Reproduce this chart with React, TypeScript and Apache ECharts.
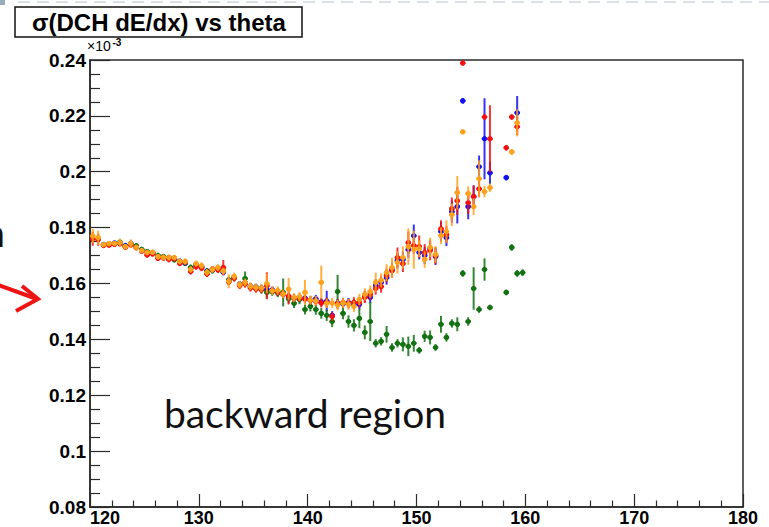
import React, { useEffect, useRef } from "react";
import * as echarts from "echarts";

// [theta (deg), sigma (x1e-3), error (x1e-3)]
const blueData: number[][] = [
  [121.25, 0.1740, 0.0008], [121.75, 0.1742, 0.0008], [122.25, 0.1745, 0.0008], [122.75, 0.1746, 0.0009],
  [123.25, 0.1736, 0.0008], [123.75, 0.1744, 0.0008], [124.25, 0.1733, 0.0009], [124.75, 0.1720, 0.0008],
  [125.25, 0.1712, 0.0009], [125.75, 0.1709, 0.0009], [126.25, 0.1697, 0.0009], [126.75, 0.1695, 0.0010],
  [127.25, 0.1693, 0.0009], [127.75, 0.1687, 0.0010], [128.25, 0.1680, 0.0010], [128.75, 0.1672, 0.0009],
  [129.25, 0.1654, 0.0010], [129.75, 0.1668, 0.0011], [130.25, 0.1660, 0.0010], [130.75, 0.1645, 0.0010],
  [131.25, 0.1648, 0.0011], [131.75, 0.1652, 0.0010], [132.25, 0.1640, 0.0011], [132.75, 0.1611, 0.0012],
  [133.25, 0.1622, 0.0011], [133.75, 0.1598, 0.0011], [134.25, 0.1603, 0.0012], [134.75, 0.1590, 0.0012],
  [135.25, 0.1588, 0.0011], [135.75, 0.1584, 0.0012], [136.25, 0.1578, 0.0013], [136.75, 0.1577, 0.0012],
  [137.25, 0.1568, 0.0013], [137.75, 0.1566, 0.0012], [138.25, 0.1552, 0.0013], [138.75, 0.1548, 0.0014],
  [139.25, 0.1546, 0.0014], [139.75, 0.1548, 0.0013], [140.25, 0.1540, 0.0014], [140.75, 0.1545, 0.0014],
  [141.25, 0.1534, 0.0015], [141.75, 0.1537, 0.0037], [142.25, 0.1486, 0.0015], [142.75, 0.1530, 0.0015],
  [143.25, 0.1527, 0.0016], [143.75, 0.1532, 0.0016], [144.25, 0.1525, 0.0018], [144.75, 0.1525, 0.0018],
  [145.25, 0.1554, 0.0020], [145.75, 0.1550, 0.0020], [146.25, 0.1593, 0.0022], [146.75, 0.1604, 0.0022],
  [147.25, 0.1621, 0.0025], [147.75, 0.1650, 0.0025], [148.25, 0.1682, 0.0028], [148.75, 0.1686, 0.0028],
  [149.25, 0.1721, 0.0030], [149.75, 0.1771, 0.0040], [150.25, 0.1711, 0.0025], [150.75, 0.1700, 0.0030],
  [151.25, 0.1725, 0.0030], [151.75, 0.1696, 0.0030], [152.25, 0.1786, 0.0035], [152.75, 0.1764, 0.0030],
  [153.25, 0.1857, 0.0040], [153.75, 0.1875, 0.0060], [154.25, 0.2254, 0.0010], [154.75, 0.1875, 0.0045],
  [155.25, 0.1911, 0.0040], [155.75, 0.2018, 0.0040], [156.25, 0.2118, 0.0145], [156.75, 0.1996, 0.0040],
  [158.25, 0.1979, 0.0010], [159.25, 0.2211, 0.0060],
];

const redData: number[][] = [
  [120.25, 0.1760, 0.0025], [120.75, 0.1757, 0.0022], [121.25, 0.1736, 0.0008], [121.75, 0.1737, 0.0008],
  [122.25, 0.1740, 0.0008], [122.75, 0.1742, 0.0009], [123.25, 0.1730, 0.0008], [123.75, 0.1738, 0.0009],
  [124.25, 0.1728, 0.0009], [124.75, 0.1716, 0.0009], [125.25, 0.1702, 0.0009], [125.75, 0.1706, 0.0010],
  [126.25, 0.1690, 0.0009], [126.75, 0.1692, 0.0010], [127.25, 0.1686, 0.0010], [127.75, 0.1689, 0.0010],
  [128.25, 0.1672, 0.0010], [128.75, 0.1677, 0.0010], [129.25, 0.1643, 0.0011], [129.75, 0.1660, 0.0011],
  [130.25, 0.1655, 0.0011], [130.75, 0.1634, 0.0011], [131.25, 0.1652, 0.0011], [131.75, 0.1649, 0.0012],
  [132.25, 0.1657, 0.0027], [132.75, 0.1605, 0.0012], [133.25, 0.1619, 0.0012], [133.75, 0.1592, 0.0012],
  [134.25, 0.1598, 0.0013], [134.75, 0.1584, 0.0013], [135.25, 0.1580, 0.0013], [135.75, 0.1578, 0.0013],
  [136.25, 0.1592, 0.0048], [136.75, 0.1575, 0.0013], [137.25, 0.1569, 0.0014], [137.75, 0.1561, 0.0014],
  [138.25, 0.1555, 0.0030], [138.75, 0.1547, 0.0014], [139.25, 0.1549, 0.0015], [139.75, 0.1544, 0.0015],
  [140.25, 0.1540, 0.0015], [140.75, 0.1536, 0.0015], [141.25, 0.1530, 0.0016], [141.75, 0.1533, 0.0016],
  [142.25, 0.1482, 0.0016], [142.75, 0.1527, 0.0016], [143.25, 0.1532, 0.0017], [143.75, 0.1528, 0.0017],
  [144.25, 0.1533, 0.0018], [144.75, 0.1532, 0.0018], [145.25, 0.1550, 0.0020], [145.75, 0.1561, 0.0020],
  [146.25, 0.1582, 0.0022], [146.75, 0.1589, 0.0022], [147.25, 0.1629, 0.0025], [147.75, 0.1646, 0.0025],
  [148.25, 0.1693, 0.0036], [148.75, 0.1671, 0.0030], [149.25, 0.1746, 0.0040], [149.75, 0.1736, 0.0030],
  [150.25, 0.1732, 0.0040], [150.75, 0.1711, 0.0030], [151.25, 0.1718, 0.0035], [151.75, 0.1700, 0.0030],
  [152.25, 0.1796, 0.0030], [152.75, 0.1775, 0.0030], [153.25, 0.1868, 0.0040], [153.75, 0.1896, 0.0050],
  [154.25, 0.2389, 0.0008], [154.75, 0.1889, 0.0040], [155.25, 0.1911, 0.0040], [155.75, 0.1939, 0.0030],
  [156.25, 0.2196, 0.0010], [156.75, 0.2118, 0.0120], [158.25, 0.2086, 0.0010], [158.75, 0.2196, 0.0010],
  [159.25, 0.2161, 0.0030],
];

const orangeData: number[][] = [
  [120.25, 0.1770, 0.0025], [120.75, 0.1764, 0.0025], [121.25, 0.1739, 0.0008], [121.75, 0.1743, 0.0009],
  [122.25, 0.1743, 0.0009], [122.75, 0.1746, 0.0015], [123.25, 0.1732, 0.0009], [123.75, 0.1743, 0.0015],
  [124.25, 0.1729, 0.0010], [124.75, 0.1718, 0.0009], [125.25, 0.1711, 0.0010], [125.75, 0.1712, 0.0009],
  [126.25, 0.1696, 0.0010], [126.75, 0.1694, 0.0010], [127.25, 0.1693, 0.0011], [127.75, 0.1693, 0.0010],
  [128.25, 0.1679, 0.0011], [128.75, 0.1679, 0.0011], [129.25, 0.1650, 0.0012], [129.75, 0.1671, 0.0011],
  [130.25, 0.1664, 0.0012], [130.75, 0.1640, 0.0012], [131.25, 0.1650, 0.0012], [131.75, 0.1657, 0.0012],
  [132.25, 0.1644, 0.0013], [132.75, 0.1608, 0.0025], [133.25, 0.1626, 0.0013], [133.75, 0.1596, 0.0013],
  [134.25, 0.1604, 0.0014], [134.75, 0.1590, 0.0014], [135.25, 0.1586, 0.0014], [135.75, 0.1584, 0.0015],
  [136.25, 0.1600, 0.0035], [136.75, 0.1574, 0.0015], [137.25, 0.1575, 0.0015], [137.75, 0.1563, 0.0015],
  [138.25, 0.1580, 0.0040], [138.75, 0.1550, 0.0016], [139.25, 0.1553, 0.0016], [139.75, 0.1568, 0.0045],
  [140.25, 0.1541, 0.0016], [140.75, 0.1538, 0.0017], [141.25, 0.1604, 0.0060], [141.75, 0.1529, 0.0017],
  [142.25, 0.1530, 0.0018], [142.75, 0.1523, 0.0018], [143.25, 0.1530, 0.0018], [143.75, 0.1525, 0.0019],
  [144.25, 0.1518, 0.0020], [144.75, 0.1543, 0.0020], [145.25, 0.1561, 0.0022], [145.75, 0.1571, 0.0022],
  [146.25, 0.1604, 0.0035], [146.75, 0.1611, 0.0025], [147.25, 0.1639, 0.0030], [147.75, 0.1657, 0.0035],
  [148.25, 0.1675, 0.0040], [148.75, 0.1693, 0.0040], [149.25, 0.1732, 0.0065], [149.75, 0.1721, 0.0068],
  [150.25, 0.1725, 0.0030], [150.75, 0.1686, 0.0030], [151.25, 0.1729, 0.0035], [151.75, 0.1704, 0.0030],
  [152.25, 0.1771, 0.0030], [152.75, 0.1786, 0.0040], [153.25, 0.1846, 0.0040], [153.75, 0.1925, 0.0060],
  [154.25, 0.2143, 0.0008], [154.75, 0.1922, 0.0025], [155.25, 0.1875, 0.0030], [155.75, 0.1975, 0.0066],
  [156.25, 0.1929, 0.0020], [156.75, 0.1943, 0.0015], [158.75, 0.2071, 0.0010], [159.25, 0.2175, 0.0048],
];

const greenData: number[][] = [
  [121.25, 0.1738, 0.0008], [121.75, 0.1740, 0.0008], [122.25, 0.1742, 0.0008], [122.75, 0.1748, 0.0008],
  [123.25, 0.1733, 0.0008], [123.75, 0.1741, 0.0009], [124.25, 0.1735, 0.0009], [124.75, 0.1722, 0.0009],
  [125.25, 0.1714, 0.0009], [125.75, 0.1710, 0.0009], [126.25, 0.1700, 0.0010], [126.75, 0.1696, 0.0010],
  [127.25, 0.1691, 0.0010], [127.75, 0.1685, 0.0010], [128.25, 0.1677, 0.0010], [128.75, 0.1675, 0.0011],
  [129.25, 0.1657, 0.0011], [129.75, 0.1666, 0.0011], [130.25, 0.1659, 0.0011], [130.75, 0.1643, 0.0012],
  [131.25, 0.1647, 0.0012], [131.75, 0.1654, 0.0012], [132.25, 0.1645, 0.0013], [132.75, 0.1612, 0.0012],
  [133.25, 0.1620, 0.0012], [133.75, 0.1596, 0.0013], [134.25, 0.1618, 0.0025], [134.75, 0.1588, 0.0013],
  [135.25, 0.1583, 0.0013], [135.75, 0.1578, 0.0014], [136.25, 0.1568, 0.0022], [136.75, 0.1570, 0.0014],
  [137.25, 0.1566, 0.0015], [137.75, 0.1568, 0.0050], [138.25, 0.1545, 0.0016], [138.75, 0.1529, 0.0017],
  [139.25, 0.1543, 0.0017], [139.75, 0.1507, 0.0018], [140.25, 0.1518, 0.0018], [140.75, 0.1507, 0.0019],
  [141.25, 0.1493, 0.0019], [141.75, 0.1486, 0.0020], [142.25, 0.1464, 0.0020], [142.75, 0.1571, 0.0060],
  [143.25, 0.1493, 0.0021], [143.75, 0.1464, 0.0022], [144.25, 0.1450, 0.0022], [144.75, 0.1475, 0.0035],
  [145.25, 0.1425, 0.0025], [145.75, 0.1464, 0.0070], [146.25, 0.1386, 0.0015], [146.75, 0.1393, 0.0015],
  [147.25, 0.1418, 0.0030], [147.75, 0.1371, 0.0015], [148.25, 0.1386, 0.0015], [148.75, 0.1382, 0.0025],
  [149.25, 0.1375, 0.0035], [149.75, 0.1386, 0.0030], [150.25, 0.1361, 0.0012], [150.75, 0.1411, 0.0020],
  [151.25, 0.1407, 0.0025], [151.75, 0.1371, 0.0012], [152.25, 0.1454, 0.0030], [152.75, 0.1407, 0.0015],
  [153.25, 0.1457, 0.0015], [153.75, 0.1454, 0.0025], [154.25, 0.1636, 0.0012], [154.75, 0.1464, 0.0015],
  [155.25, 0.1582, 0.0076], [155.75, 0.1507, 0.0012], [156.25, 0.1650, 0.0040], [156.75, 0.1514, 0.0010],
  [158.25, 0.1568, 0.0010], [158.75, 0.1729, 0.0012], [159.25, 0.1636, 0.0012], [159.75, 0.1639, 0.0012],
];

const seriesList = [
  { name: "blue", color: "#1010f0", data: blueData },
  { name: "green", color: "#127212", data: greenData },
  { name: "red", color: "#f41010", data: redData },
  { name: "orange", color: "#ffa11c", data: orangeData },
];

const xTicks = { min: 120, max: 180, interval: 10 };
const yTicks = { min: 0.08, max: 0.24, interval: 0.02 };
const binHalfWidth = 0.25;

const titleText = "σ(DCH dE/dx) vs theta";
const regionText = "backward region";

const AXIS_FONT = "'Liberation Sans', Arial, sans-serif";

export default function App() {
  const ref = useRef<HTMLDivElement>(null);
  useEffect(() => {
    document.body.style.margin = "0";
    if (!ref.current) return;
    const chart = echarts.init(ref.current, undefined, { renderer: "svg" });
    const axisColor = "#2a2a2a";
    const option: any = {
      animation: false,
      backgroundColor: "#ffffff",
      grid: {
        left: 90, right: 26, top: 60, bottom: 19,
        show: true, borderColor: axisColor, borderWidth: 1.5, backgroundColor: "transparent",
      },
      xAxis: {
        type: "value",
        min: xTicks.min, max: xTicks.max, interval: xTicks.interval,
        axisLine: { show: true, onZero: false, lineStyle: { color: axisColor, width: 1.5 } },
        axisTick: { show: true, inside: true, length: 13, lineStyle: { color: axisColor, width: 1.2 } },
        minorTick: { show: true, splitNumber: 5, length: 6.5, lineStyle: { color: axisColor, width: 1.2 } },
        splitLine: { show: false },
        axisLabel: {
          margin: 2, color: "#000", fontSize: 18, fontWeight: "bold", fontFamily: AXIS_FONT,
          verticalAlign: "top", alignMinLabel: "left",
        },
      },
      yAxis: {
        type: "value",
        min: yTicks.min, max: yTicks.max, interval: yTicks.interval,
        axisLine: { show: true, onZero: false, lineStyle: { color: axisColor, width: 1.5 } },
        axisTick: { show: true, inside: true, length: 20, lineStyle: { color: axisColor, width: 1.2 } },
        minorTick: { show: true, splitNumber: 4, length: 10, lineStyle: { color: axisColor, width: 1.2 } },
        splitLine: { show: false },
        axisLabel: {
          margin: 4, color: "#000", fontSize: 19, fontWeight: "bold", fontFamily: AXIS_FONT,
          formatter: (v: number) => String(Math.round(v * 100) / 100),
        },
      },
      series: seriesList.map((s) => ({
        type: "custom",
        name: s.name,
        data: s.data,
        encode: { x: 0, y: 1 },
        clip: true,
        renderItem: (params: any, api: any) => {
          const x = api.value(0);
          const y = api.value(1);
          const e = api.value(2);
          const c = api.coord([x, y]);
          const t = api.coord([x, y + e]);
          const b = api.coord([x, y - e]);
          const l = api.coord([x - binHalfWidth, y]);
          const r = api.coord([x + binHalfWidth, y]);
          return {
            type: "group",
            children: [
              { type: "line", shape: { x1: c[0], y1: t[1], x2: c[0], y2: b[1] }, style: { stroke: s.color, lineWidth: 2, opacity: 0.85 } },
              { type: "line", shape: { x1: l[0], y1: c[1], x2: r[0], y2: c[1] }, style: { stroke: s.color, lineWidth: 2 } },
              { type: "circle", shape: { cx: c[0], cy: c[1], r: 2.7 }, style: { fill: s.color } },
            ],
          };
        },
      })),
      graphic: [
        { type: "line", shape: { x1: 18, y1: 2, x2: 769, y2: 2 }, style: { stroke: "#cfd6de", lineWidth: 1.5, lineDash: [12, 7] } },
        { type: "rect", shape: { x: 0, y: 0, width: 5, height: 5 }, style: { fill: "#9aabbe" } },
        { type: "rect", shape: { x: 15, y: 7, width: 287, height: 30 }, style: { fill: "#ffffff", stroke: "#111", lineWidth: 1.5 } },
        {
          type: "text", x: 159, y: 22,
          style: { text: titleText, fill: "#000", font: `bold 24px ${AXIS_FONT}`, textAlign: "center", textVerticalAlign: "middle" },
        },
        {
          type: "text", x: 87, y: 53,
          style: { text: "×10", fill: "#000", fontSize: 14, fontFamily: "Liberation Sans", textAlign: "left", textVerticalAlign: "bottom" },
        },
        {
          type: "text", x: 112.5, y: 37,
          style: { text: "-3", fill: "#000", fontSize: 10, fontWeight: "bold", fontFamily: "Liberation Sans", textAlign: "left", textVerticalAlign: "top" },
        },
        {
          type: "text", x: 305, y: 432,
          style: { text: regionText, fill: "#111", font: `39px Lato, 'Open Sans', sans-serif`, textAlign: "center", textVerticalAlign: "bottom" },
        },
        {
          type: "text", x: 5, y: 251,
          style: { text: "n", fill: "#111", font: `38px Lato, 'Open Sans', sans-serif`, textAlign: "right", textVerticalAlign: "bottom" },
        },
        { type: "polyline", shape: { points: [[-2, 285], [37, 299]] }, style: { stroke: "#ee1414", lineWidth: 4 } },
        { type: "polyline", shape: { points: [[22, 286], [38, 299], [16, 311]] }, style: { stroke: "#ee1414", lineWidth: 4, fill: "none", lineJoin: "miter" } },
      ],
    };
    chart.setOption(option);
    return () => chart.dispose();
  }, []);
  return <div ref={ref} style={{ width: 769, height: 527 }} />;
}
